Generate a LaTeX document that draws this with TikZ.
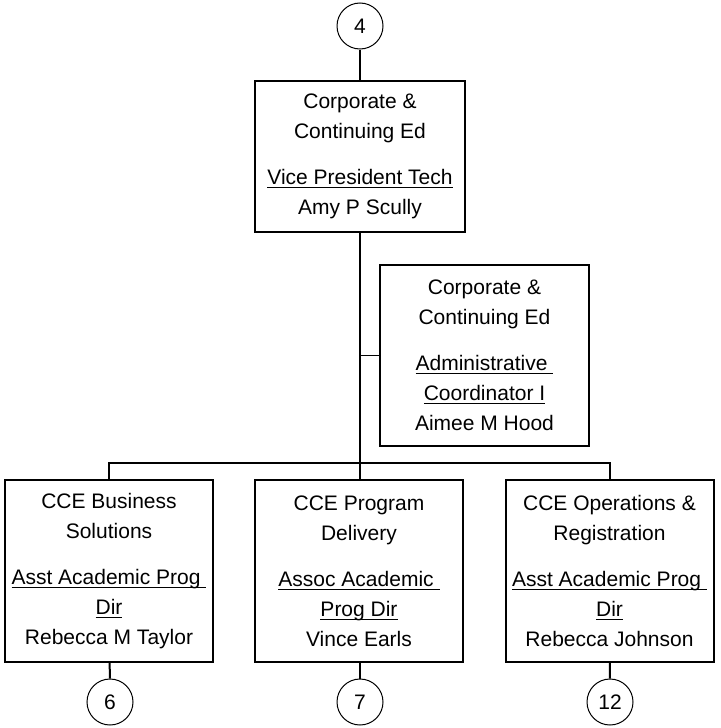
\documentclass[tikz,border=0pt]{standalone}
\usepackage{fontspec}
\setmainfont{Liberation Sans}
\newcommand{\ultext}[1]{\underline{\smash{#1}}}
\begin{document}
\begin{tikzpicture}[%
            x=0.5pt, y=-0.5pt,
            mybox/.style={draw, line width=1pt, rectangle, inner sep=0pt,
                minimum width=104pt, minimum height=91pt, align=center,
                font=\fontsize{10.5}{15}\selectfont},
            mycircle/.style={draw, line width=0.5pt, circle, inner sep=0pt,
                minimum size=23pt, font=\fontsize{10.5}{15}\selectfont},
            myline/.style={line width=1pt}
        ]
        \useasboundingbox (0,0) rectangle (720,728);

        % vice president
        \node [mycircle] (c4) at (360,26) {4};
        \node [mybox, minimum width=105pt, minimum height=75.5pt] (vp) at (360,156.5)
            {Corporate \&\\Continuing Ed\\[8pt]\ultext{Vice President Tech}\\Amy P Scully};
        \draw [myline] (c4) -- (vp);

        % assistant
        \node [mybox, minimum width=104.5pt, minimum height=90.5pt] (asst) at (484.5,355.5)
            {Corporate \&\\Continuing Ed\\[8pt]\ultext{Administrative\ }\\\ultext{Coordinator I}\\Aimee M Hood};
        \draw [line width=0.6pt] (asst.west) -- (asst.west -| vp.south);

        % directors
        \node [mybox] (bus) at (109,571)
            {CCE Business\\Solutions\\[8pt]\ultext{Asst Academic Prog\ }\\\ultext{Dir}\\Rebecca M Taylor};
        \node [mybox] (prog) at (359,571)
            {CCE Program\\Delivery\\[8pt]\ultext{Assoc Academic\ }\\\ultext{Prog Dir}\\Vince Earls};
        \node [mybox] (ops) at (609.5,571)
            {CCE Operations \&\\Registration\\[8pt]\ultext{Asst Academic Prog\ }\\\ultext{Dir}\\Rebecca Johnson};

        \coordinate (split) at (360,463);
        \draw [myline] (vp.south) -- (vp.south |- prog.north);
        \draw [myline] (bus.north) |- (split) -| (ops.north);

        % off-page links
        \node [mycircle] (c6) at (110,702) {6};
        \node [mycircle] (c7) at (360,702) {7};
        \node [mycircle] (c12) at (610,702) {12};
        \draw [myline] (bus) -- (c6);
        \draw [myline] (prog.south -| c7) -- (c7);
        \draw [myline] (ops) -- (c12);
    \end{tikzpicture}
\end{document}
